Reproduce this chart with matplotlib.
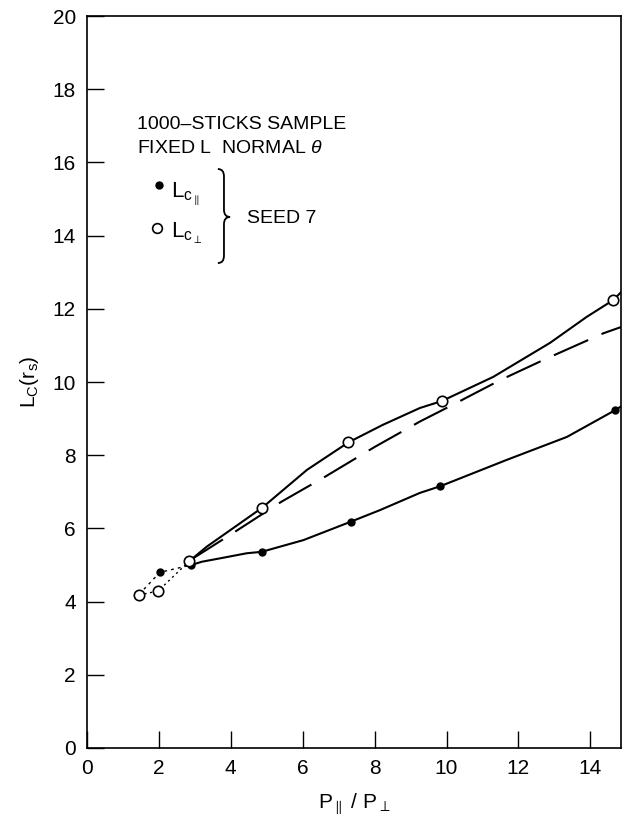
import numpy as np
import matplotlib.pyplot as plt
from matplotlib.path import Path
from matplotlib.patches import PathPatch

# measured critical lengths, seed 7
x_par = [1.45, 2.03, 2.9, 4.86, 7.33, 9.82, 14.69]
y_par = [4.2, 4.8, 5.0, 5.36, 6.18, 7.15, 9.23]
x_perp = [1.45, 1.98, 2.84, 4.88, 7.27, 9.87, 14.64]
y_perp = [4.18, 4.29, 5.1, 6.57, 8.35, 9.48, 12.24]

# hand-drawn curves through the points
cx_par = [2.9, 3.2, 3.8, 4.44, 4.86, 6.02, 7.33, 8.15, 9.26, 9.82, 11.67,
          13.35, 14.69, 14.85]
cy_par = [5.0, 5.09, 5.2, 5.32, 5.36, 5.68, 6.18, 6.5, 6.97, 7.15, 7.87,
          8.5, 9.23, 9.33]
cx_perp = [2.84, 3.33, 4.88, 6.12, 7.27, 8.23, 9.26, 9.87, 11.3, 12.88,
           13.9, 14.64, 14.85]
cy_perp = [5.1, 5.5, 6.57, 7.6, 8.35, 8.83, 9.29, 9.48, 10.14, 11.07,
           11.78, 12.24, 12.45]
# long-dashed reference curve
cx_ref = [2.9, 4.12, 5.41, 6.62, 8.01, 9.26, 10.1, 11.49, 12.78, 14.36, 14.85]
cy_ref = [5.15, 5.91, 6.73, 7.41, 8.23, 8.92, 9.34, 10.05, 10.64, 11.33, 11.5]

xticks = [0, 2, 4, 6, 8, 10, 12, 14]
yticks = [0, 2, 4, 6, 8, 10, 12, 14, 16, 18, 20]

plt.rcParams['font.family'] = ['Liberation Sans', 'DejaVu Sans']
plt.rcParams['mathtext.fontset'] = 'custom'
plt.rcParams['mathtext.rm'] = 'Liberation Sans'
plt.rcParams['mathtext.it'] = 'Liberation Sans:italic'

fig = plt.figure(figsize=(6.24, 8.18), dpi=100)
ax = fig.add_axes([0.1394, 0.0856, 0.8556, 0.8948])

lw = 1.5
ax.plot(cx_par, cy_par, color='k', lw=lw, zorder=2)
ax.plot(cx_perp, cy_perp, color='k', lw=lw, zorder=2)
ax.plot(cx_ref, cy_ref, color='k', lw=lw, dashes=(18, 7), zorder=2)
# dotted start of both series
ax.plot(x_par[:3], y_par[:3], color='k', lw=1.0, ls=(0, (2, 3)), zorder=2)
ax.plot(x_perp[:3], y_perp[:3], color='k', lw=1.0, ls=(0, (1.5, 2.5)),
        zorder=2)

ax.plot(x_par, y_par, 'o', color='k', ms=5, zorder=3)
ax.plot(x_perp, y_perp, 'o', mfc='white', mec='k', mew=1.2, ms=7.5, zorder=4)

ax.set_xlim(0, 14.85)
ax.set_ylim(0, 20)
ax.set_xticks(xticks)
ax.set_yticks(yticks)
ax.tick_params(direction='in', length=12, width=1.0, labelsize=15, pad=8)
for s in ax.spines.values():
    s.set_linewidth(1.2)

ax.set_xlabel(r'$\mathregular{P_{\parallel}\ /\ P_{\perp}}$', fontsize=15,
              labelpad=10)
ax.set_ylabel(r'$\mathregular{L_C(r_s)}$', fontsize=15, labelpad=8)

# annotations
ax.text(1.39, 16.91, '1000\u2013STICKS SAMPLE', fontsize=14, va='baseline')
ax.text(1.39, 16.26, r'FIXED L  NORMAL $\theta$', fontsize=14,
        va='baseline')
ax.plot([2.0], [15.38], 'o', color='k', ms=5)
ax.plot([1.95], [14.21], 'o', mfc='white', mec='k', mew=1.2, ms=7)
ax.text(2.35, 15.05, r'$\mathregular{L_{c_{\parallel}}}$', fontsize=16,
        va='baseline')
ax.text(2.35, 13.93, r'$\mathregular{L_{c_{\perp}}}$', fontsize=16,
        va='baseline')
ax.text(4.45, 14.48, 'SEED 7', fontsize=14, va='center')

# curly brace
bx0, bx1, bx2 = 3.64, 3.81, 3.98
yt, ym, yb = 15.82, 14.51, 13.25
verts = [(bx0, yt), (bx1, yt), (bx1, yt - 0.2), (bx1, yt - 0.2),
         (bx1, ym + 0.2), (bx1, ym), (bx2, ym),
         (bx1, ym), (bx1, ym - 0.2), (bx1, ym - 0.2),
         (bx1, yb + 0.2), (bx1, yb), (bx0, yb)]
codes = [Path.MOVETO, Path.CURVE3, Path.CURVE3, Path.LINETO,
         Path.LINETO, Path.CURVE3, Path.CURVE3,
         Path.CURVE3, Path.CURVE3, Path.LINETO,
         Path.LINETO, Path.CURVE3, Path.CURVE3]
ax.add_patch(PathPatch(Path(verts, codes), fill=False, lw=1.3, color='k'))

fig.savefig('out.png', dpi=100)
